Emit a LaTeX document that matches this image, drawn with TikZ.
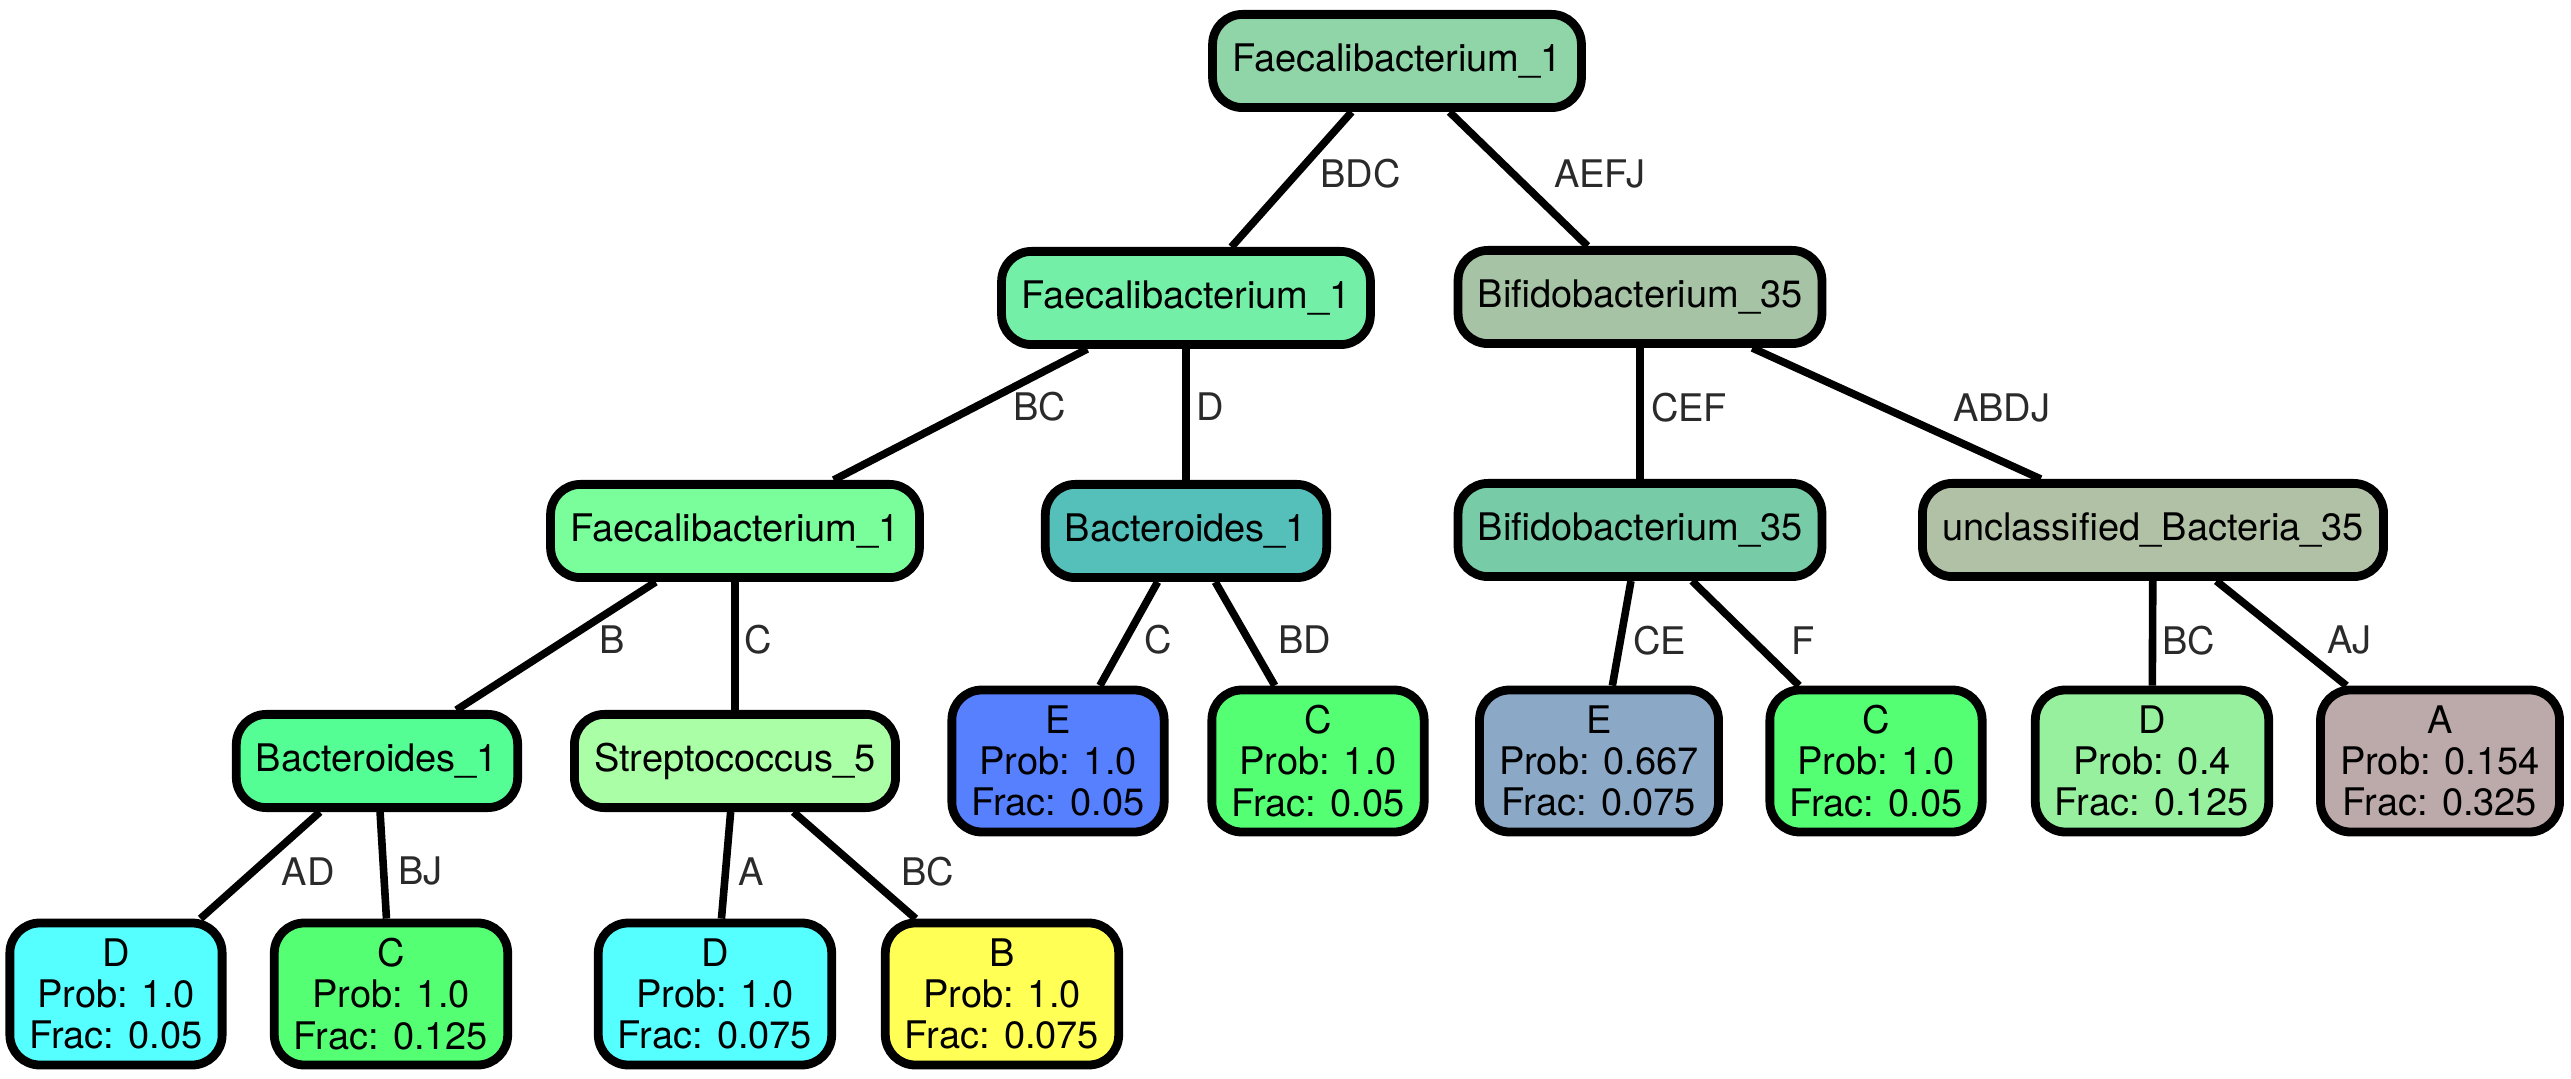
\documentclass[tikz,border=0pt]{standalone}
\usepackage{fontspec}
\setmainfont{TeX Gyre Heros}
\usepackage{tikz}

\definecolor{cRoot}{HTML}{8FD5A8}
\definecolor{cFaecA}{HTML}{73EFA8}
\definecolor{cFaecB}{HTML}{7AFE9C}
\definecolor{cBifA}{HTML}{A6C3A6}
\definecolor{cBifB}{HTML}{77CBA6}
\definecolor{cBactA}{HTML}{55C0BA}
\definecolor{cBactB}{HTML}{55FD95}
\definecolor{cStrep}{HTML}{AAFFA6}
\definecolor{cUncl}{HTML}{B1C1A6}
\definecolor{cBlue}{HTML}{5780FF}
\definecolor{cGreen}{HTML}{55FF74}
\definecolor{cSteel}{HTML}{8BA9C6}
\definecolor{cPale}{HTML}{96F09E}
\definecolor{cMauve}{HTML}{BBAAA9}
\definecolor{cCyan}{HTML}{55FFFF}
\definecolor{cYellow}{HTML}{FFFF55}
\definecolor{cLabel}{HTML}{2A2A2A}

\tikzset{
	tnode/.style={draw, line width=2.2pt, rounded corners=7.5pt, inner xsep=4.9pt,
		minimum height=23.3pt, font=\fontsize{9.5pt}{10.3pt}\selectfont},
	tleaf/.style={tnode, align=center, minimum height=35.5pt},
	elabel/.style={text=cLabel, font=\fontsize{9.5pt}{10.3pt}\selectfont, midway},
	edge/.style={line width=1.9pt}
}

\begin{document}
\begin{tikzpicture}[x=0.25pt, y=-0.25pt]
	\useasboundingbox (0,0) rectangle (2571,1079);
	% tree levels
	\node[tnode, fill=cRoot] (root) at (1397,61) {Faecalibacterium\_1};
	\node[tnode, fill=cFaecA] (faec2) at (1186,298) {Faecalibacterium\_1};
	\node[tnode, fill=cBifA] (bif2) at (1640,297) {Bifidobacterium\_35};
	\node[tnode, fill=cFaecB] (faec3) at (735,531) {Faecalibacterium\_1};
	\node[tnode, fill=cBactA] (bact3) at (1186,531) {Bacteroides\_1};
	\node[tnode, fill=cBifB] (bif3) at (1640,530) {Bifidobacterium\_35};
	\node[tnode, fill=cUncl] (uncl3) at (2153,530) {unclassified\_Bacteria\_35};
	\node[tnode, fill=cBactB] (bact4) at (377,761) {Bacteroides\_1};
	\node[tnode, fill=cStrep] (strep4) at (735,761) {Streptococcus\_5};
	% leaves
	\node[tleaf, fill=cBlue] (leafE1) at (1058,761) {E\\Prob: 1.0\\Frac: 0.05};
	\node[tleaf, fill=cGreen] (leafC1) at (1318,761) {C\\Prob: 1.0\\Frac: 0.05};
	\node[tleaf, fill=cSteel] (leafE2) at (1599,761) {E\\Prob: 0.667\\Frac: 0.075};
	\node[tleaf, fill=cGreen] (leafC2) at (1876,761) {C\\Prob: 1.0\\Frac: 0.05};
	\node[tleaf, fill=cPale] (leafD2) at (2152,761) {D\\Prob: 0.4\\Frac: 0.125};
	\node[tleaf, fill=cMauve] (leafA2) at (2440,761) {A\\Prob: 0.154\\Frac: 0.325};
	\node[tleaf, fill=cCyan] (leafD3) at (116,994) {D\\Prob: 1.0\\Frac: 0.05};
	\node[tleaf, fill=cGreen] (leafC3) at (391,994) {C\\Prob: 1.0\\Frac: 0.125};
	\node[tleaf, fill=cCyan] (leafD4) at (715,994) {D\\Prob: 1.0\\Frac: 0.075};
	\node[tleaf, fill=cYellow] (leafB4) at (1002,994) {B\\Prob: 1.0\\Frac: 0.075};
	% edges
	\draw[edge] (root) -- node[elabel, xshift=17.25pt, yshift=1.5pt] {BDC} (faec2);
	\draw[edge] (root) -- node[elabel, xshift=20.25pt, yshift=1.25pt] {AEFJ} (bif2);
	\draw[edge] (faec2) -- node[elabel, xshift=19.75pt, yshift=2pt] {BC} (faec3);
	\draw[edge] (faec2) -- node[elabel, xshift=6pt, yshift=2pt] {D} (bact3);
	\draw[edge] (bif2) -- node[elabel, xshift=12.25pt, yshift=1.5pt] {CEF} (bif3);
	\draw[edge] (bif2) -- node[elabel, xshift=26.25pt, yshift=1.5pt] {ABDJ} (uncl3);
	\draw[edge] (faec3) -- node[elabel, xshift=14pt, yshift=1.5pt] {B} (bact4);
	\draw[edge] (faec3) -- node[elabel, xshift=5.75pt, yshift=1.5pt] {C} (strep4);
	\draw[edge] (bact3) -- node[elabel, xshift=7.25pt, yshift=-1.5pt] {C} (leafE1);
	\draw[edge] (bact3) -- node[elabel, xshift=15pt, yshift=-1.5pt] {BD} (leafC1);
	\draw[edge] (bif3) -- node[elabel, xshift=9.5pt, yshift=-1.75pt] {CE} (leafE2);
	\draw[edge] (bif3) -- node[elabel, xshift=14.5pt, yshift=-1.75pt] {F} (leafC2);
	\draw[edge] (uncl3) -- node[elabel, xshift=9pt, yshift=-1.75pt] {BC} (leafD2);
	\draw[edge] (uncl3) -- node[elabel, xshift=17pt, yshift=-1.75pt] {AJ} (leafA2);
	\draw[edge] (bact4) -- node[elabel, xshift=12pt, yshift=-1.5pt] {AD} (leafD3);
	\draw[edge] (bact4) -- node[elabel, xshift=9.25pt, yshift=-1.5pt] {BJ} (leafC3);
	\draw[edge] (strep4) -- node[elabel, xshift=6.25pt, yshift=-1.5pt] {A} (leafD4);
	\draw[edge] (strep4) -- node[elabel, xshift=18.25pt, yshift=-1.5pt] {BC} (leafB4);
\end{tikzpicture}
\end{document}
